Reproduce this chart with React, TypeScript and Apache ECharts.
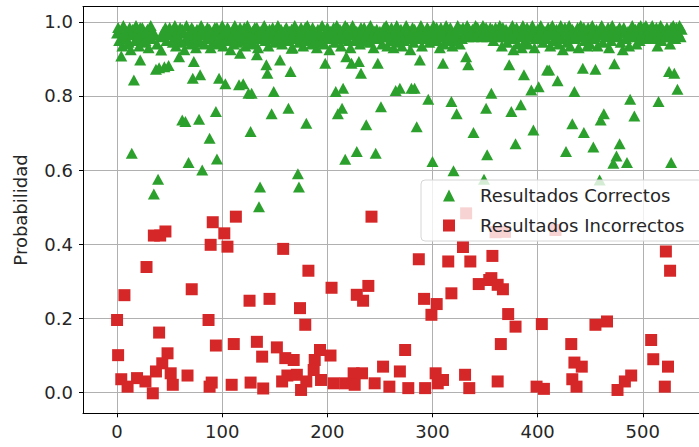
import React, { useEffect, useRef } from 'react';
import * as echarts from 'echarts';

const seriesNames = ['Resultados Correctos', 'Resultados Incorrectos'];

// Correct results: dense band near the top
const correctBand: [number, number][] = [
  [0,0.97],[1,0.985],[2,0.95],[3,0.975],[5,0.935],[6,0.99],[8,0.96],[9,0.975],[11,0.945],[12,0.985],[13,0.925],[14,0.965],[15,0.98],[17,0.95],[18,0.99],[20,0.96],[21,0.935],[23,0.975],[24,0.985],[25,0.945],[26,0.965],[29,0.98],[30,0.93],[31,0.97],[32,0.99],[33,0.955],
  [36,0.965],[38,0.94],[42,0.96],[44,0.975],[47,0.95],[50,0.985],
  [52,0.97],[54,0.955],[55,0.99],[56,0.935],[57,0.975],[58,0.96],[60,0.985],[61,0.945],[63,0.97],[64,0.925],[66,0.99],[67,0.955],[69,0.975],[70,0.94],[71,0.985],[74,0.96],[75,0.93],[76,0.98],[77,0.95],[80,0.99],[82,0.965],[83,0.94],[84,0.975],[85,0.955],[86,0.985],[89,0.93],[90,0.97],
  [92,0.955],[93,0.985],[96,0.94],[98,0.975],[99,0.96],[100,0.99],[101,0.935],[104,0.965],[106,0.98],[107,0.95],[108,0.925],[110,0.97],[112,0.99],[114,0.945],[115,0.96],[118,0.975],[119,0.95],[121,0.985],[122,0.935],[123,0.965],[124,0.99],
  [126,0.955],[129,0.975],[130,0.94],[131,0.985],[132,0.96],[134,0.93],[137,0.97],[140,0.99],[141,0.95],[143,0.975],[144,0.935],[146,0.965],[148,0.985],[150,0.945],[151,0.97],[153,0.99],[154,0.955],[156,0.98],[157,0.94],[159,0.965],[161,0.985],[163,0.95],[164,0.975],[167,0.93],[169,0.99],[170,0.96],
  [172,0.975],[173,0.945],[175,0.985],[176,0.96],[177,0.935],[178,0.97],[181,0.99],[183,0.955],[184,0.975],[185,0.94],[186,0.985],[189,0.965],[190,0.93],[191,0.98],[192,0.95],[195,0.99],[196,0.96],[197,0.94],[199,0.975],[200,0.985],[201,0.955],[202,0.925],[205,0.97],[207,0.945],[209,0.99],[211,0.96],[212,0.98],[213,0.935],
  [216,0.965],[219,0.985],[220,0.95],[221,0.975],[222,0.93],[224,0.99],[227,0.955],[229,0.97],[231,0.94],[235,0.985],[236,0.96],[238,0.975],[240,0.945],[241,0.99],[243,0.965],[244,0.93],[247,0.98],[249,0.955],[250,0.975],[252,0.94],[254,0.985],[255,0.96],[256,0.99],[257,0.935],[258,0.97],[260,0.95],
  [261,0.985],[262,0.965],[263,0.93],[264,0.975],[266,0.99],[267,0.945],[268,0.96],[270,0.98],[271,0.935],[272,0.97],[273,0.95],[275,0.99],[276,0.96],[278,0.975],[279,0.925],[281,0.985],[282,0.945],[284,0.97],[286,0.955],[289,0.99],[290,0.935],[291,0.975],[294,0.96],[295,0.985],[297,0.945],[298,0.97],[301,0.99],
  [302,0.955],[306,0.975],[307,0.93],[308,0.985],[309,0.96],[311,0.94],[312,0.975],[313,0.99],[314,0.95],[316,0.965],[317,0.985],[319,0.935],[321,0.97],[322,0.95],[324,0.99],[325,0.96],[326,0.94],[327,0.98],[328,0.955],[330,0.97],[333,0.99],[337,0.965],[338,0.98],
  [340,0.975],[341,0.99],[342,0.965],[343,0.985],[345,0.97],[346,0.98],[347,0.96],[348,0.99],[350,0.975],[353,0.965],[355,0.985],
  [358,0.95],[361,0.975],[364,0.99],[366,0.935],[368,0.96],[370,0.98],[371,0.945],[374,0.97],[376,0.99],[377,0.925],[378,0.955],[380,0.985],[381,0.94],[382,0.965],[383,0.975],[385,0.93],[386,0.99],[388,0.95],[389,0.97],[390,0.985],[391,0.94],[392,0.96],[393,0.975],[395,0.99],[397,0.93],[398,0.955],[400,0.98],
  [402,0.965],[403,0.99],[405,0.945],[407,0.975],[408,0.955],[410,0.985],[412,0.935],[413,0.97],[414,0.99],[415,0.95],[416,0.965],[418,0.98],[420,0.94],[421,0.975],[422,0.99],[423,0.955],[424,0.925],[425,0.97],[426,0.985],[428,0.945],[429,0.96],[430,0.99],[431,0.935],[434,0.975],[436,0.955],[438,0.985],[439,0.93],[440,0.965],[441,0.99],[445,0.95],[446,0.975],[447,0.935],[448,0.985],[449,0.96],[450,0.94],
  [451,0.97],[452,0.99],[454,0.955],[456,0.98],[457,0.935],[458,0.965],[461,0.99],[462,0.945],[464,0.975],[465,0.96],[467,0.985],[468,0.93],[469,0.97],[470,0.95],[471,0.99],[474,0.965],[477,0.98],[479,0.945],[480,0.97],[481,0.925],[482,0.985],[484,0.955],[486,0.975],[487,0.935],[490,0.99],[491,0.96],[493,0.98],[494,0.94],[495,0.97],[496,0.985],[497,0.95],[498,0.99],[499,0.965],
  [500,0.975],[501,0.985],[502,0.96],[503,0.99],[504,0.97],[505,0.955],[506,0.98],[507,0.965],[509,0.99],[511,0.975],[512,0.955],[513,0.985],[514,0.935],[516,0.97],[517,0.99],[518,0.95],[519,0.98],[520,0.96],[523,0.985],[526,0.94],[528,0.975],[529,0.99],[531,0.955],[532,0.985],[534,0.97],[535,0.99],[536,0.96],[537,0.98]
];

// Correct results: further points filling the band
const correctBandFill: [number, number][] = [
  [4,0.955],[7,0.97],[10,0.94],[16,0.97],[19,0.955],[22,0.985],[27,0.95],[28,0.975],[34,0.97],[46,0.985],[48,0.965],[53,0.945],[59,0.97],[62,0.98],[65,0.95],[68,0.965],[72,0.98],[73,0.955],[78,0.965],[79,0.945],[81,0.975],[87,0.96],[88,0.98],[91,0.945],[94,0.97],[95,0.985],[97,0.955],
  [102,0.975],[103,0.95],[105,0.985],[109,0.96],[111,0.94],[113,0.98],[116,0.97],[117,0.985],[120,0.96],[125,0.975],[127,0.945],[128,0.965],[133,0.985],[135,0.955],[136,0.975],[138,0.96],[139,0.98],[142,0.965],[145,0.98],[147,0.955],[149,0.97],[152,0.96],[155,0.975],[158,0.95],[160,0.98],[162,0.96],[165,0.955],[166,0.98],[168,0.97],[171,0.955],[174,0.965],[179,0.985],[180,0.95],[182,0.965],[187,0.955],[188,0.975],[193,0.97],[194,0.945],[198,0.965],
  [203,0.975],[204,0.96],[206,0.985],[208,0.955],[210,0.97],[214,0.975],[215,0.955],[217,0.99],[218,0.97],[223,0.965],[225,0.98],[226,0.95],[228,0.975],[230,0.96],[232,0.985],[233,0.97],[234,0.95],[237,0.965],[239,0.98],[242,0.955],[245,0.975],[246,0.96],[248,0.97],[251,0.96],[253,0.975],[259,0.96],[265,0.955],[269,0.965],[274,0.98],[277,0.955],[280,0.965],[283,0.98],[285,0.97],[287,0.96],[288,0.975],[292,0.955],[293,0.97],[296,0.98],[299,0.96],
  [300,0.975],[303,0.965],[304,0.985],[305,0.95],[310,0.97],[315,0.96],[318,0.975],[320,0.955],[323,0.97],[329,0.985],[331,0.965],[332,0.975],[334,0.96],[335,0.98],[336,0.97],[339,0.96],[344,0.975],[349,0.97],[351,0.985],[352,0.96],[354,0.975],[356,0.965],[357,0.98],[359,0.97],[360,0.985],[362,0.96],[363,0.975],[365,0.965],[367,0.985],[369,0.97],[372,0.96],[373,0.975],[375,0.965],[379,0.97],[384,0.96],[387,0.98],[394,0.965],[396,0.975],[399,0.96],
  [401,0.97],[404,0.98],[406,0.96],[409,0.975],[411,0.965],[417,0.975],[419,0.96],[427,0.975],[432,0.965],[433,0.98],[435,0.96],[437,0.97],[442,0.975],[443,0.96],[444,0.985],[453,0.975],[455,0.96],[459,0.975],[460,0.985],[463,0.965],[466,0.975],[472,0.98],[473,0.96],[475,0.975],[476,0.965],[478,0.985],[483,0.97],[485,0.96],[488,0.975],[489,0.965],[492,0.975],
  [508,0.96],[510,0.975],[515,0.965],[521,0.975],[522,0.965],[524,0.975],[525,0.96],[527,0.985],[530,0.97],[533,0.965]
];

// Correct results: lower-probability points
const correctLow: [number, number][] = [
  [4,0.908],[14,0.645],[16,0.843],[22,0.897],[35,0.535],[37,0.872],[39,0.575],[40,0.876],[42,0.924],[45,0.879],[49,0.882],[59,0.906],[62,0.735],[65,0.731],[68,0.62],[72,0.848],[73,0.893],[78,0.737],[79,0.857],[81,0.6],[88,0.686],[94,0.758],[95,0.63],[97,0.848],[103,0.833],[116,0.83],[117,0.915],
  [120,0.833],[125,0.807],[127,0.704],[128,0.807],[133,0.911],[135,0.501],[136,0.554],[142,0.884],[143,0.861],[147,0.752],[149,0.812],[155,0.897],[163,0.767],[165,0.866],[166,0.929],[172,0.59],[173,0.554],[180,0.726],[198,0.888],
  [208,0.812],[210,0.752],[214,0.767],[215,0.821],[218,0.906],[217,0.629],[223,0.888],[228,0.65],[230,0.893],[232,0.861],[237,0.722],[246,0.645],[248,0.888],[251,0.771],[265,0.815],[269,0.821],[280,0.821],[283,0.821],[285,0.717],[288,0.897],[296,0.791],
  [300,0.623],[310,0.888],[318,0.785],[320,0.598],[323,0.752],[332,0.906],[334,0.884],[339,0.701],[349,0.575],[351,0.767],[352,0.641],[356,0.807],[373,0.884],[375,0.758],[379,0.671],[384,0.776],[387,0.857],[394,0.816],[396,0.708],
  [401,0.825],[409,0.87],[411,0.87],[419,0.841],[427,0.65],[433,0.725],[435,0.812],[443,0.875],[444,0.701],[453,0.662],[455,0.872],[459,0.573],[460,0.735],[463,0.752],[473,0.887],[472,0.618],[475,0.638],[478,0.671],[485,0.62],[488,0.791],[492,0.746],
  [515,0.785],[525,0.866],[527,0.62],[530,0.861],[533,0.818]
];

// Incorrect results
const incorrect: [number, number][] = [
  [0,0.195],[1,0.10],[4,0.035],[7,0.262],[10,0.015],[19,0.038],[27,0.029],[28,0.338],[34,-0.003],[35,0.423],[37,0.056],[41,0.423],[40,0.161],[43,0.078],[46,0.434],[48,0.105],[51,0.051],[53,0.02],[67,0.045],[71,0.278],
  [87,0.195],[88,0.015],[90,0.026],[89,0.398],[91,0.459],[94,0.126],[102,0.429],[105,0.393],[109,0.02],[111,0.13],[113,0.474],[126,0.247],[127,0.026],[133,0.136],[138,0.096],[139,0.01],[145,0.252],[152,0.121],[158,0.387],[157,0.029],[160,0.092],
  [162,0.045],[168,0.087],[171,0.047],[174,0.227],[175,0.006],[179,0.182],[180,0.029],[182,0.328],[187,0.06],[188,0.087],[193,0.114],[194,0.033],[203,0.099],[204,0.282],[206,0.024],[217,0.024],[225,0.051],[226,0.02],[228,0.263],[233,0.051],[234,0.247],[239,0.287],[242,0.474],
  [245,0.024],[253,0.069],[259,0.015],[269,0.056],[274,0.114],[277,0.011],[287,0.359],[292,0.252],[293,0.011],[299,0.209],[303,0.051],[304,0.238],[305,0.024],[310,0.033],[315,0.353],[318,0.267],[329,0.392],[331,0.047],[332,0.483],[335,0.011],[336,0.353],
  [344,0.292],[354,0.303],[357,0.368],[356,0.308],[360,0.432],[362,0.029],[362,0.29],[365,0.13],[367,0.278],[369,0.433],[372,0.211],[379,0.177],[399,0.015],[404,0.184],[406,0.009],[417,0.438],
  [432,0.13],[433,0.035],[435,0.08],[437,0.015],[442,0.069],[455,0.182],[466,0.191],[476,0.006],[483,0.029],[489,0.045],[508,0.141],[510,0.089],[521,0.015],[522,0.38],[524,0.069],[526,0.328]
];

const FONT = 'DejaVu Sans';

export default function App() {
  const ref = useRef<HTMLDivElement>(null);
  useEffect(() => {
    const chart = echarts.init(ref.current as HTMLDivElement, null, { renderer: 'svg' });
    const xMin = -32.4;
    const xMax = 553.5;
    chart.setOption({
      animation: false,
      backgroundColor: '#ffffff',
      textStyle: { fontFamily: FONT },
      grid: { left: 83, right: -3, top: 6.7, bottom: 33.7 },
      xAxis: [
        {
          type: 'value',
          min: xMin,
          max: xMax,
          splitNumber: 5,
          axisLine: { show: true, onZero: false, lineStyle: { color: '#000', width: 1 } },
          axisTick: { show: true, inside: false, length: 4, lineStyle: { color: '#000', width: 1 } },
          axisLabel: { fontSize: 18, color: '#262626', fontFamily: FONT, margin: 9, showMinLabel: false, showMaxLabel: false },
          splitLine: { show: true, lineStyle: { color: '#b0b0b0', width: 1 } },
        },
        {
          type: 'value',
          position: 'top',
          min: xMin,
          max: xMax,
          axisLine: { show: true, onZero: false, lineStyle: { color: '#000', width: 1 } },
          axisTick: { show: false },
          axisLabel: { show: false },
          splitLine: { show: false },
        },
      ],
      yAxis: {
        type: 'value',
        min: -0.057,
        max: 1.041,
        splitNumber: 5,
        name: 'Probabilidad',
        nameLocation: 'middle',
        nameGap: 54,
        nameTextStyle: { fontSize: 18, color: '#262626', fontFamily: FONT },
        axisLine: { show: true, onZero: false, lineStyle: { color: '#000', width: 1 } },
        axisTick: { show: true, inside: false, length: 4, lineStyle: { color: '#000', width: 1 } },
        axisLabel: {
          fontSize: 18, color: '#262626', fontFamily: FONT, margin: 10,
          showMinLabel: false, showMaxLabel: false,
          formatter: (v: number) => v.toFixed(1),
        },
        splitLine: { show: true, lineStyle: { color: '#b0b0b0', width: 1 } },
      },
      legend: {
        left: 421,
        top: 180,
        orient: 'vertical',
        padding: [5.5, 18, 5.5, 22],
        itemWidth: 12,
        itemHeight: 12,
        itemGap: 10,
        selectedMode: false,
        backgroundColor: 'rgba(255,255,255,0.8)',
        borderColor: '#d6d6d6',
        borderWidth: 1,
        borderRadius: 4,
        textStyle: { fontSize: 18, color: '#262626', fontFamily: FONT, lineHeight: 20, padding: [0, 0, 0, 20] },
        data: [
          { name: seriesNames[0], icon: 'triangle' },
          { name: seriesNames[1], icon: 'rect' },
        ],
      },
      series: [
        {
          name: seriesNames[0],
          type: 'scatter',
          xAxisIndex: 0,
          data: [...correctBand, ...correctBandFill, ...correctLow],
          symbol: 'triangle',
          symbolSize: [12, 11],
          itemStyle: { color: '#2ca02c', opacity: 1 },
          z: 2,
        },
        {
          name: seriesNames[1],
          type: 'scatter',
          xAxisIndex: 0,
          data: incorrect,
          symbol: 'rect',
          symbolSize: 12,
          itemStyle: { color: '#d62728', opacity: 1 },
          z: 3,
        },
      ],
    });
    return () => chart.dispose();
  }, []);
  return <div ref={ref} style={{ position: 'fixed', left: 0, top: 0, width: 699, height: 447 }} />;
}
